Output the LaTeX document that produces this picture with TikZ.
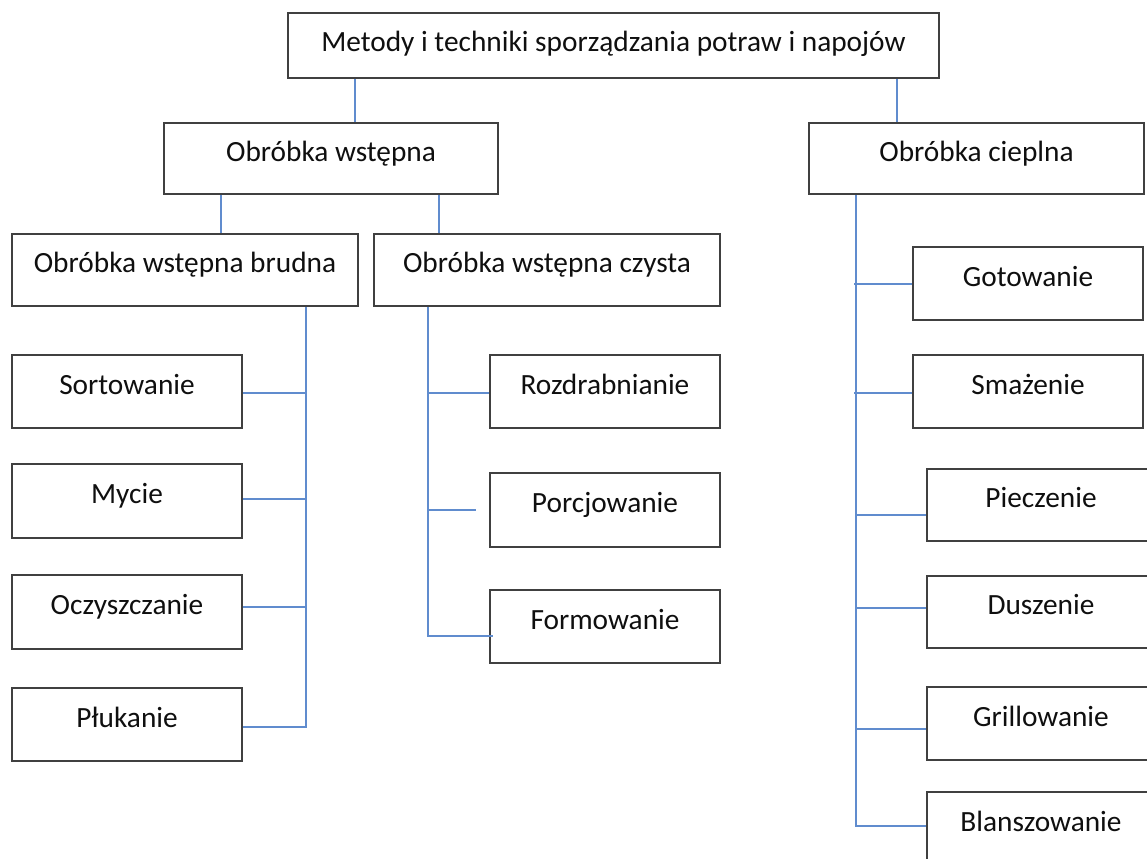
\documentclass[tikz,border=0pt]{standalone}
\usepackage{fontspec}
\setmainfont{Carlito}
\begin{document}
\begin{tikzpicture}[x=0.75pt,y=-0.75pt,
  box/.style={draw=boxgray,line width=1.5pt,rectangle,inner sep=0pt,
    text=textgray,font=\fontsize{22}{26}\selectfont,
    text height=12pt,text depth=8pt,anchor=north west},
  conn/.style={draw=connblue,line width=1.1pt}]
\definecolor{boxgray}{RGB}{64,64,64}
\definecolor{textgray}{RGB}{15,15,15}
\definecolor{connblue}{RGB}{96,140,206}
\useasboundingbox (0,0) rectangle (1147,858);
\fill[white] (0,0) rectangle (1147,858);
% boxes
\node[box,minimum width=651*0.75pt,minimum height=65*0.75pt,text depth=2.5pt] (top) at (287,12) {Metody i techniki sporządzania potraw i napojów};
\node[box,minimum width=334*0.75pt,minimum height=71*0.75pt] (ow) at (163,122) {Obróbka wstępna};
\node[box,minimum width=335*0.75pt,minimum height=71*0.75pt] (oc) at (808,122) {Obróbka cieplna};
\node[box,minimum width=346*0.75pt,minimum height=72*0.75pt] (owb) at (11,233) {Obróbka wstępna brudna};
\node[box,minimum width=346*0.75pt,minimum height=72*0.75pt] (owc) at (373,233) {Obróbka wstępna czysta};
% left column
\node[box,minimum width=230*0.75pt,minimum height=73*0.75pt] (sor) at (11,354) {Sortowanie};
\node[box,minimum width=230*0.75pt,minimum height=74*0.75pt] (myc) at (11,463) {Mycie};
\node[box,minimum width=230*0.75pt,minimum height=74*0.75pt] (ocz) at (11,574) {Oczyszczanie};
\node[box,minimum width=230*0.75pt,minimum height=73*0.75pt] (plu) at (11,687) {Płukanie};
% middle column
\node[box,minimum width=230*0.75pt,minimum height=73*0.75pt] (roz) at (489,354) {Rozdrabnianie};
\node[box,minimum width=230*0.75pt,minimum height=74*0.75pt] (por) at (489,472) {Porcjowanie};
\node[box,minimum width=230*0.75pt,minimum height=73*0.75pt] (for) at (489,589) {Formowanie};
% right column
\node[box,minimum width=230*0.75pt,minimum height=73*0.75pt] (got) at (912,246) {Gotowanie};
\node[box,minimum width=230*0.75pt,minimum height=73*0.75pt] (sma) at (912,354) {Smażenie};
\node[box,minimum width=228*0.75pt,minimum height=72*0.75pt] (pie) at (926,468) {Pieczenie};
\node[box,minimum width=228*0.75pt,minimum height=72*0.75pt] (dus) at (926,575) {Duszenie};
\node[box,minimum width=228*0.75pt,minimum height=73*0.75pt] (gri) at (926,686) {Grillowanie};
\node[box,minimum width=228*0.75pt,minimum height=73*0.75pt] (bla) at (926,791) {Blanszowanie};
% bus positions
\coordinate (xa) at (355,0);
\coordinate (xb) at (897,0);
\coordinate (xc) at (221,0);
\coordinate (xd) at (439,0);
\coordinate (b1) at (306,0);
\coordinate (b2) at (428,0);
\coordinate (b3) at (856,0);
% level 1 and 2
\draw[conn] (top.south -| xa) -- (ow.north -| xa);
\draw[conn] (top.south -| xb) -- (oc.north -| xb);
\draw[conn] (ow.south -| xc) -- (owb.north -| xc);
\draw[conn] (ow.south -| xd) -- (owc.north -| xd);
% brudna bus
\draw[conn] (owb.south -| b1) -- ([yshift=-1.9pt]plu.east -| b1) -- ([yshift=-1.9pt]plu.east);
\draw[conn] ([yshift=-1.1pt]sor.east) -- ([yshift=-1.1pt]sor.east -| b1);
\draw[conn] ([yshift=1.5pt]myc.east) -- ([yshift=1.5pt]myc.east -| b1);
\draw[conn] ([yshift=3.75pt]ocz.east) -- ([yshift=3.75pt]ocz.east -| b1);
% czysta bus
\draw[conn] (owc.south -| b2) -- ([yshift=-7.1pt]for.west -| b2) -- ([yshift=-7.1pt,xshift=3pt]for.west);
\draw[conn] ([yshift=-1.1pt]roz.west -| b2) -- ([yshift=-1.1pt]roz.west);
\draw[conn] (por.west -| b2) -- ([xshift=-9.75pt]por.west);
% cieplna bus
\draw[conn] (oc.south -| b3) -- ([yshift=1.9pt]bla.west -| b3) -- ([yshift=1.9pt]bla.west);
\draw[conn] ([xshift=-1.5pt,yshift=-0.4pt]got.west -| b3) -- ([yshift=-0.4pt]got.west);
\draw[conn] ([xshift=-1.5pt,yshift=-1.1pt]sma.west -| b3) -- ([yshift=-1.1pt]sma.west);
\draw[conn] ([yshift=-7.5pt]pie.west -| b3) -- ([yshift=-7.5pt]pie.west);
\draw[conn] ([yshift=3pt]dus.west -| b3) -- ([yshift=3pt]dus.west);
\draw[conn] ([yshift=-4.1pt]gri.west -| b3) -- ([yshift=-4.1pt]gri.west);
\end{tikzpicture}
\end{document}
